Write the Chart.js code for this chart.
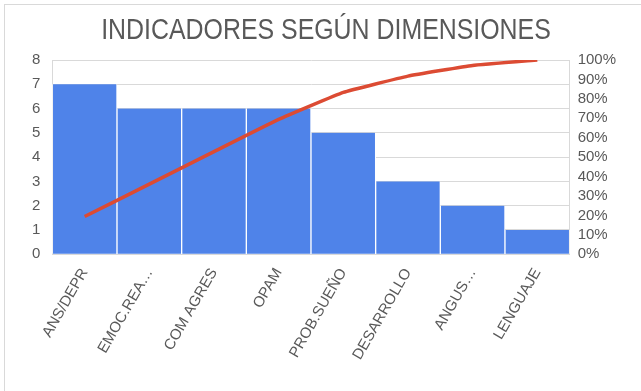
<!DOCTYPE html>
<html>
<head>
<meta charset="utf-8">
<script src="https://cdn.jsdelivr.net/npm/chart.js@4"></script>
<style>
  html, body { margin: 0; padding: 0; background: #fff; }
  #frame { position: absolute; left: 4px; top: 4px; width: 700px; height: 500px;
           border-left: 1px solid #d9d9d9; border-top: 1px solid #d9d9d9; }
  #wrap { position: absolute; left: 0; top: 0; width: 641px; height: 391px; }
  #title { position: absolute; left: 0; top: 12px; width: 652px; text-align: center;
           font: 30px 'Liberation Sans', Arial, sans-serif; color: #595959;
           line-height: 34px; white-space: nowrap;
           transform: scaleX(0.83); transform-origin: 326px 0; }
</style>
</head>
<body>
<div id="frame"></div>
<div id="wrap"><canvas id="chart"></canvas></div>
<div id="title">INDICADORES SEGÚN DIMENSIONES</div>
<script>
const categories = ['ANS/DEPR', 'EMOC.REA…', 'COM AGRES', 'OPAM', 'PROB.SUEÑO', 'DESARROLLO', 'ANGUS…', 'LENGUAJE'];
const counts = [7, 6, 6, 6, 5, 3, 2, 1];
const cumulativePct = [19.4, 36.1, 52.8, 69.4, 83.3, 91.7, 97.2, 100];
const leftTicks = [0, 1, 2, 3, 4, 5, 6, 7, 8];
const rightTicks = [0, 10, 20, 30, 40, 50, 60, 70, 80, 90, 100];

const grey = '#595959';
const tickFont = { family: 'Liberation Sans, Arial, sans-serif', size: 15 };

new Chart(document.getElementById('chart'), {
  data: {
    labels: categories,
    datasets: [
      {
        type: 'line',
        data: cumulativePct,
        yAxisID: 'y2',
        borderColor: '#DC4B33',
        borderWidth: 3.5,
        pointRadius: 0,
        tension: 0.1,
        order: 0
      },
      {
        type: 'bar',
        data: counts,
        yAxisID: 'y',
        backgroundColor: '#4F83E9',
        borderColor: '#ffffff',
        borderWidth: { left: 1, right: 1, top: 0, bottom: 0 },
        borderSkipped: false,
        categoryPercentage: 1,
        barPercentage: 1,
        order: 1
      }
    ]
  },
  options: {
    responsive: true,
    maintainAspectRatio: false,
    animation: false,
    layout: { padding: { left: 20, right: 17, top: 60, bottom: 25 } },
    plugins: {
      legend: { display: false },
      tooltip: { enabled: false },
      title: { display: false }
    },
    scales: {
      x: {
        grid: { display: false },
        border: { color: '#d9d9d9' },
        ticks: { color: grey, font: tickFont, minRotation: 60, maxRotation: 60, autoSkip: false }
      },
      y: {
        position: 'left',
        min: leftTicks[0],
        max: leftTicks[leftTicks.length - 1],
        afterBuildTicks: (axis) => { axis.ticks = leftTicks.map(v => ({ value: v })); },
        grid: { color: '#d9d9d9', drawTicks: false },
        border: { color: '#d9d9d9' },
        ticks: { color: grey, font: tickFont, padding: 12 }
      },
      y2: {
        position: 'right',
        min: rightTicks[0],
        max: rightTicks[rightTicks.length - 1],
        afterBuildTicks: (axis) => { axis.ticks = rightTicks.map(v => ({ value: v })); },
        grid: { display: false, drawTicks: false },
        border: { color: '#d9d9d9' },
        ticks: { color: grey, font: tickFont, padding: 8, autoSkip: false,
                 callback: v => v + '%' }
      }
    }
  }
});
</script>
</body>
</html>
